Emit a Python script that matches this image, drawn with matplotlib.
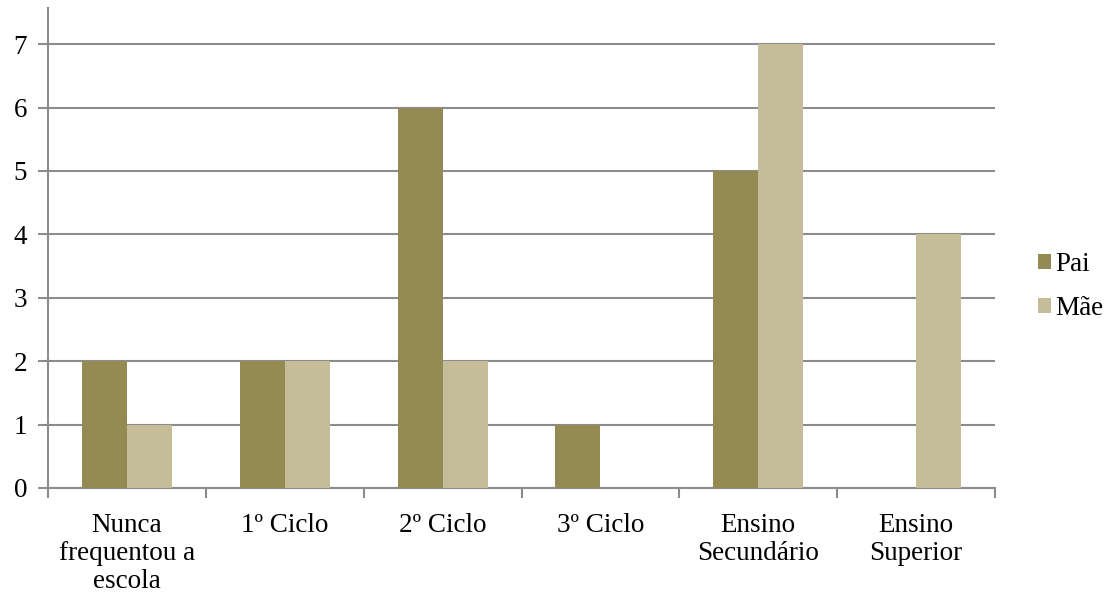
import matplotlib.pyplot as plt
import numpy as np

plt.rcParams['font.family'] = ['Liberation Serif', 'DejaVu Serif']

# dados
categorias = ['Nunca\nfrequentou a\nescola', '1º Ciclo', '2º Ciclo', '3º Ciclo',
              'Ensino\nSecundário', 'Ensino\nSuperior']
pai = [2, 2, 6, 1, 5, 0]
mae = [1, 2, 2, 0, 7, 4]

cor_pai = '#948A54'
cor_mae = '#C4BD97'
cor_grade = '#8C8C8C'

fig = plt.figure(figsize=(11.07, 5.94), dpi=100)
ax = fig.add_axes([0.0434, 0.1785, 0.8554, 0.808])

x = np.arange(len(categorias))
w = 0.285
ax.bar(x - w/2, pai, width=w, color=cor_pai, label='Pai', zorder=3)
ax.bar(x + w/2, mae, width=w, color=cor_mae, label='Mãe', zorder=3)

ax.set_xlim(-0.5, len(categorias) - 0.5)
ax.set_ylim(0, 7.57)
ax.set_yticks(range(0, 8))
ax.yaxis.grid(True, color=cor_grade, linewidth=1.5, zorder=0)

# ticks de categoria nas fronteiras
ax.set_xticks(np.arange(-0.5, len(categorias), 1.0))
ax.set_xticklabels([])
ax.set_xticks(x, minor=True)
ax.set_xticklabels(categorias, minor=True, fontsize=19.5, linespacing=1.15)
ax.tick_params(axis='x', which='major', length=7, width=1.5, color=cor_grade, direction='out')
ax.tick_params(axis='x', which='minor', length=0, pad=18)
ax.tick_params(axis='y', length=7, width=1.5, color=cor_grade, labelsize=19.5, pad=8)

for s in ['top', 'right']:
    ax.spines[s].set_visible(False)
for s in ['left', 'bottom']:
    ax.spines[s].set_color(cor_grade)
    ax.spines[s].set_linewidth(1.5)

ax.legend(loc='center left', bbox_to_anchor=(1.045, 0.42), frameon=False, fontsize=19.5,
          handlelength=0.5, handleheight=0.5, handletextpad=0.15, labelspacing=0.7,
          borderaxespad=0, borderpad=0)

fig.savefig('out.png', dpi=100)
